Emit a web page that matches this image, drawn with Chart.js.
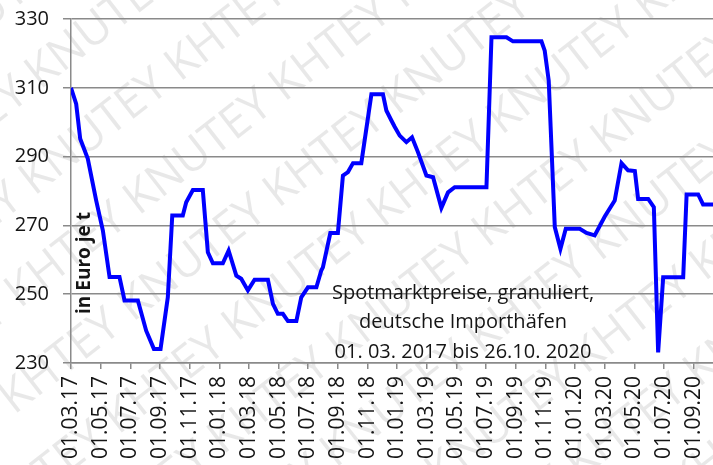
<!DOCTYPE html>
<html>
<head>
<meta charset="utf-8">
<script src="https://cdn.jsdelivr.net/npm/chart.js@4.4.1/dist/chart.umd.min.js"></script>
<style>
  html, body { margin: 0; padding: 0; background: #fff; overflow: hidden; }
  #wrap { position: relative; width: 713px; height: 465px; }
</style>
</head>
<body>
<div id="wrap"><canvas id="spotChart" width="713" height="465"></canvas></div>
<script>
// --- Data: months since 01.03.2017 and price in Euro je t ---
const monthPos = [
  0, 0.35, 0.62, 1.13, 1.70, 2.15, 2.60, 3.27, 3.61, 4.51,
  5.07, 5.59, 6.04, 6.53, 6.83, 7.54, 7.77, 8.22, 8.89, 9.23,
  9.57, 10.24, 10.63, 11.15, 11.48, 11.93, 12.38, 13.28, 13.62, 13.95,
  14.29, 14.63, 15.20, 15.53, 15.98, 16.55, 16.88, 16.99, 17.49, 18.00,
  18.34, 18.68, 19.02, 19.58, 20.26, 21.04, 21.27, 21.61, 21.83, 22.17,
  22.62, 23.00, 23.40, 23.97, 24.42, 24.98, 25.43, 25.88, 28.02, 28.36,
  29.37, 29.81, 31.73, 31.95, 32.22, 32.63, 33.01, 33.37, 34.31, 34.77,
  35.32, 36.00, 36.67, 37.13, 37.57, 38.03, 38.25, 38.93, 39.31, 39.60,
  39.94, 41.29, 41.52, 42.30, 42.63, 43.83
];
const price = [
  310, 305.3, 295.2, 289.4, 277.2, 268.5, 255, 255, 248.2, 248.2,
  239.4, 234.1, 234.1, 249.1, 272.9, 272.9, 276.7, 280.3, 280.3, 262.2,
  259, 259, 262.7, 255.4, 254.5, 251.1, 254.2, 254.2, 247.2, 244.3,
  244.3, 242.2, 242.2, 249.1, 252, 252, 256.9, 257.8, 267.8, 267.8,
  284.5, 285.5, 288.1, 288.1, 308.1, 308.1, 303.4, 300.5, 298.7, 296.1,
  294.2, 295.6, 291.3, 284.5, 284, 275.1, 279.6, 281.1, 281.1, 324.7,
  324.7, 323.5, 323.5, 320.8, 312.1, 269.5, 263.2, 269, 269, 267.8,
  267.1, 272.6, 277.2, 288.1, 286, 285.8, 277.7, 277.7, 275.3, 233.1,
  254.9, 254.9, 279, 279, 276.1, 276.1
];
const xTickLabels = [
  '01.03.17', '01.05.17', '01.07.17', '01.09.17', '01.11.17',
  '01.01.18', '01.03.18', '01.05.18', '01.07.18', '01.09.18', '01.11.18',
  '01.01.19', '01.03.19', '01.05.19', '01.07.19', '01.09.19', '01.11.19',
  '01.01.20', '01.03.20', '01.05.20', '01.07.20', '01.09.20'
];
const yMin = 230, yMax = 330, yStep = 20;
const noteLines = ['Spotmarktpreise, granuliert,', 'deutsche Importhäfen', '01. 03. 2017 bis 26.10. 2020'];
const axisTitle = 'in Euro je t';

const gridGrey = '#8a8a8a';
const textColor = '#151515';

// background + faint watermark
const watermark = {
  id: 'watermark',
  beforeDraw(chart) {
    const ctx = chart.ctx;
    ctx.save();
    ctx.fillStyle = '#fff';
    ctx.fillRect(0, 0, chart.width, chart.height);
    ctx.translate(chart.width / 2, chart.height / 2);
    ctx.rotate(-38 * Math.PI / 180);
    ctx.font = '46px "Open Sans"';
    ctx.fillStyle = 'rgba(0,0,0,0.09)';
    ctx.textAlign = 'center';
    ctx.textBaseline = 'middle';
    for (let r = -7; r <= 7; r++) {
      ctx.fillText('KNUTEY KHTEY KNUTEY KHTEY KNUTEY KHTEY', (r % 2) * 70, r * 80);
    }
    ctx.restore();
  }
};

// text notes inside the plot
const notes = {
  id: 'notes',
  afterDraw(chart) {
    const ctx = chart.ctx;
    const a = chart.chartArea;
    ctx.save();
    ctx.fillStyle = textColor;
    ctx.textAlign = 'center';
    ctx.textBaseline = 'middle';
    ctx.font = '20px "Open Sans"';
    const cx = 463;
    noteLines.forEach((line, i) => ctx.fillText(line, cx, 293 + i * 29.5));

    ctx.translate(a.left + 14, 263);
    ctx.rotate(-Math.PI / 2);
    ctx.font = 'bold 19px "Open Sans"';
    ctx.fillText(axisTitle, 0, 0);
    ctx.restore();
  }
};

const ctx = document.getElementById('spotChart').getContext('2d');
new Chart(ctx, {
  type: 'line',
  data: {
    datasets: [{
      data: monthPos.map((m, i) => ({ x: m, y: price[i] })),
      borderColor: '#0000ff',
      borderWidth: 4,
      pointRadius: 0,
      tension: 0,
      fill: false
    }]
  },
  options: {
    responsive: false,
    animation: false,
    devicePixelRatio: 1,
    layout: { padding: { top: 19, right: 0, bottom: 0, left: 0 } },
    plugins: { legend: { display: false }, tooltip: { enabled: false } },
    scales: {
      x: {
        type: 'linear',
        min: 0,
        max: 43.3,
        grid: { drawOnChartArea: false, drawTicks: true, tickLength: 6, color: gridGrey, lineWidth: 1.5 },
        border: { color: gridGrey, width: 1.5 },
        ticks: {
          stepSize: 2,
          includeBounds: false,
          autoSkip: false,
          maxRotation: 90,
          minRotation: 90,
          padding: 7,
          color: textColor,
          font: { family: 'Open Sans', size: 21 },
          callback: v => xTickLabels[Math.round(v / 2)]
        },
        afterFit: s => { s.height = 102; s.paddingLeft = 0; s.paddingRight = 0; }
      },
      y: {
        min: yMin,
        max: yMax,
        grid: { color: gridGrey, lineWidth: 1.5, tickLength: 8 },
        border: { color: gridGrey, width: 1.5 },
        ticks: {
          stepSize: yStep,
          padding: 14,
          color: textColor,
          font: { family: 'Open Sans', size: 20 }
        },
        afterFit: s => { s.width = 71; s.paddingTop = 0; s.paddingBottom = 0; }
      }
    }
  },
  plugins: [watermark, notes]
});
</script>
</body>
</html>
